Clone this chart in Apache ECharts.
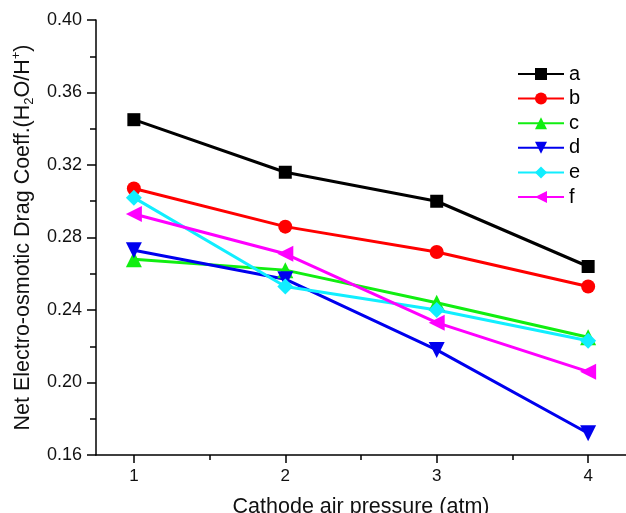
<!DOCTYPE html>
<html lang="en">
<head>
    <meta charset="UTF-8">
    <title>Drag coefficient</title>
    <script src="https://cdn.jsdelivr.net/npm/echarts@6/dist/echarts.min.js"></script>
    <style>
        body { margin: 0; background: #fff; }
    </style>
</head>
<body>
    <div id="ec" style="width:626px;height:513px"></div>
</body>
<script>
    // values
    var pressure = [1, 2, 3, 4]
    var names = ['a', 'b', 'c', 'd', 'e', 'f']
    var a = [0.345, 0.316, 0.300, 0.264]
    var b = [0.307, 0.286, 0.272, 0.253]
    var c = [0.268, 0.262, 0.244, 0.225]
    var d = [0.273, 0.257, 0.218, 0.172]
    var e = [0.302, 0.253, 0.240, 0.223]
    var f = [0.293, 0.271, 0.233, 0.206]
    var xTicks = [1, 2, 3, 4]
    var xMinorTicks = [1.5, 2.5, 3.5]

    var colors = ['#000000', '#ff0000', '#11ee11', '#0000ee', '#11eeff', '#ff00ff']
    var symbols = ['rect', 'circle', 'triangle', 'triangle', 'diamond', 'triangle']
    var rotates = [0, 0, 0, 180, 0, 90]
    var sizes = [13, 14, 16, 16, 16, 16]
    var values = [a, b, c, d, e, f]

    var font = 'Liberation Sans, Arial, sans-serif'

    var series = values.map(function(v, i) {
        return {
            name: names[i],
            type: 'line',
            xAxisIndex: 0,
            data: pressure.map(function(p, j) { return [p, v[j]] }),
            symbol: symbols[i],
            symbolRotate: rotates[i],
            symbolSize: sizes[i],
            color: colors[i],
            lineStyle: { width: 3, color: colors[i] },
            itemStyle: { color: colors[i] }
        }
    })

    var mychart = echarts.init(document.getElementById('ec'))
    mychart.setOption({
        animation: false,
        grid: { left: 96, top: 20, right: 0, bottom: 58, outerBoundsMode: 'none', containLabel: false },
        legend: {
            orient: 'vertical',
            left: 517,
            top: 64,
            padding: 0,
            itemWidth: 46,
            itemHeight: 15,
            itemGap: 4.6,
            textStyle: { fontFamily: font, fontSize: 20, color: '#000' },
            data: names
        },
        xAxis: [{
            type: 'value',
            min: 0.75,
            max: 4.25,
            name: 'Cathode air pressure (atm)',
            nameLocation: 'middle',
            nameGap: 41,
            nameTextStyle: { fontFamily: font, fontSize: 21.5, color: '#111' },
            axisLine: { lineStyle: { color: '#000', width: 1.5 } },
            axisTick: { show: true, length: 8, customValues: xTicks, lineStyle: { color: '#000', width: 1.5 } },
            axisLabel: { customValues: xTicks, fontFamily: font, fontSize: 17, color: '#111', margin: 13 },
            splitLine: { show: false }
        }, {
            type: 'value',
            position: 'bottom',
            min: 0.75,
            max: 4.25,
            axisLine: { show: false },
            axisTick: { show: true, length: 5, customValues: xMinorTicks, lineStyle: { color: '#000', width: 1.5 } },
            axisLabel: { show: false, customValues: xMinorTicks },
            splitLine: { show: false }
        }],
        yAxis: {
            type: 'value',
            min: 0.16,
            max: 0.40,
            interval: 0.04,
            name: '{n|Net Electro-osmotic Drag Coeff.(H}{sub|2}{n|O/H}{sup|+}{n|)}',
            nameLocation: 'middle',
            nameGap: 52,
            nameTextStyle: {
                fontFamily: font,
                fontSize: 21.5,
                color: '#111',
                rich: {
                    n: { fontFamily: font, fontSize: 21.5, color: '#111', lineHeight: 26 },
                    sub: { fontFamily: font, fontSize: 13, color: '#111', lineHeight: 26, verticalAlign: 'bottom', padding: [9, 0, 0, 0] },
                    sup: { fontFamily: font, fontSize: 13, color: '#111', lineHeight: 26, verticalAlign: 'top', padding: [0, 0, 9, 0] }
                }
            },
            axisLine: { show: true, lineStyle: { color: '#000', width: 1.5 } },
            axisTick: { show: true, length: 9, lineStyle: { color: '#000', width: 1.5 } },
            minorTick: { show: true, splitNumber: 2, length: 6, lineStyle: { color: '#000', width: 1.5 } },
            axisLabel: {
                fontFamily: font, fontSize: 18, color: '#111', margin: 14,
                formatter: function(v) { return v.toFixed(2) }
            },
            splitLine: { show: false }
        },
        series: series
    })
</script>
</html>
